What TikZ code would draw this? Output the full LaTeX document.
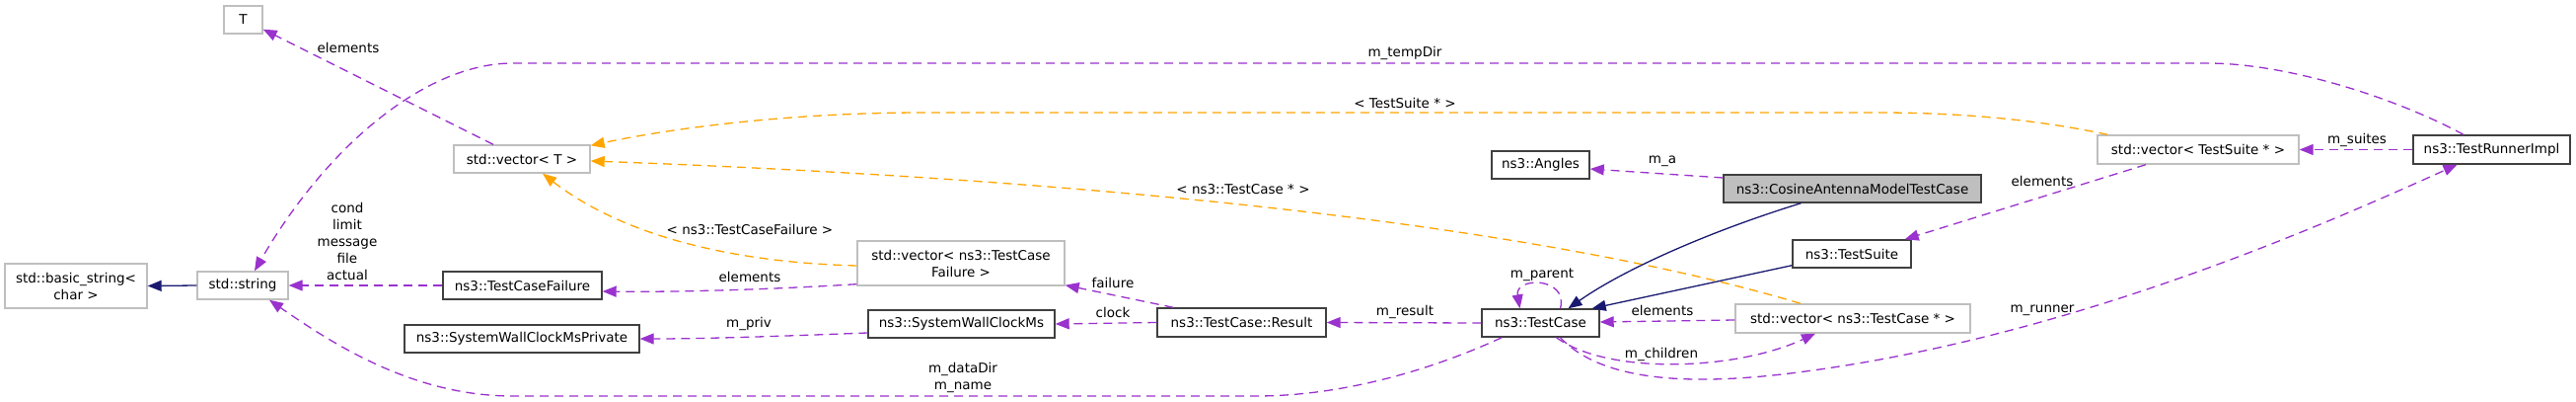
\documentclass[tikz,border=0pt]{standalone}
\usepackage{fontspec}
\setmainfont{DejaVu Sans}
\usetikzlibrary{arrows.meta}
\definecolor{dpurple}{HTML}{9A32CD}
\definecolor{dorange}{HTML}{FFA500}
\definecolor{dnavy}{HTML}{191970}
\definecolor{gborder}{HTML}{BFBFBF}
\definecolor{bborder}{HTML}{404040}
\definecolor{gfill}{HTML}{BFBFBF}
\begin{document}
\begin{tikzpicture}[x=1pt,y=-1pt,
  font=\fontsize{13.5}{17}\selectfont,
  box/.style={draw=bborder,line width=1.4pt,inner sep=0pt,align=center,fill=white},
  gbox/.style={draw=gborder,line width=1.4pt,inner sep=0pt,align=center,fill=white},
  tip/.style={-{Triangle[length=14pt,width=11pt]}},
  uses/.style={tip,draw=dpurple,line width=1.3pt,dash pattern=on 9pt off 6pt},
  tmpl/.style={tip,draw=dorange,line width=1.3pt,dash pattern=on 9pt off 6pt},
  inh/.style={tip,draw=dnavy,line width=1.3pt},
  lbl/.style={inner sep=0pt,align=center}
]
\useasboundingbox (0,0) rectangle (2611,407);
\fill[white] (0,0) rectangle (2611,407);

% nodes
\node[gbox,minimum width=39pt,minimum height=28pt] (T) at (246.5,20) {T};
\node[gbox,minimum width=144pt,minimum height=45pt] (bstr) at (77,289.5) {std::basic\_string<\\char >};
\node[gbox,minimum width=92pt,minimum height=28pt] (str) at (246,289) {std::string};
\node[gbox,minimum width=138pt,minimum height=28pt] (vecT) at (529,161) {std::vector< T >};
\node[box,minimum width=161pt,minimum height=28pt] (tcf) at (529.5,289) {ns3::TestCaseFailure};
\node[gbox,minimum width=210pt,minimum height=45pt] (vecTCF) at (974,266.5) {std::vector< ns3::TestCase\\Failure >};
\node[box,minimum width=238pt,minimum height=28pt] (swp) at (529,343) {ns3::SystemWallClockMsPrivate};
\node[box,minimum width=189pt,minimum height=28pt] (swc) at (974.5,328) {ns3::SystemWallClockMs};
\node[box,minimum width=171pt,minimum height=29pt] (res) at (1258.5,326.5) {ns3::TestCase::Result};
\node[box,minimum width=119pt,minimum height=28pt] (tc) at (1561.5,327) {ns3::TestCase};
\node[box,minimum width=99pt,minimum height=28pt] (ang) at (1561.5,167) {ns3::Angles};
\node[box,fill=gfill,minimum width=261pt,minimum height=28pt] (cos) at (1877.5,191) {ns3::CosineAntennaModelTestCase};
\node[box,minimum width=120pt,minimum height=28pt] (ts) at (1877,257) {ns3::TestSuite};
\node[gbox,minimum width=238pt,minimum height=29pt] (vecTC) at (1878,322.5) {std::vector< ns3::TestCase * >};
\node[gbox,minimum width=204pt,minimum height=29pt] (vecTS) at (2228,151.5) {std::vector< TestSuite * >};
\node[box,minimum width=159pt,minimum height=29pt] (run) at (2525.5,151.5) {ns3::TestRunnerImpl};

% edges
\draw[inh] (str.west) -- (bstr.east);
\draw[uses] ([xshift=-29pt]vecT.north) -- ([yshift=5pt]T.south east);
\draw[uses] (tcf.west) -- (str.east);
\draw[uses] ([xshift=-28.5pt]run.north) .. controls (2430,100) and (2320,64) .. (2237,64) -- (520,64) .. controls (430,64) and (330,150) .. ([xshift=12pt]str.north);
\draw[tmpl] ([xshift=11pt]vecTS.north west) .. controls (2060,120) and (1980,114) .. (1904,114) -- (936,114) .. controls (800,114) and (680,130) .. ([yshift=-1pt]vecT.north east);
\draw[tmpl] ([xshift=-53pt]vecTC.north) .. controls (1600,240) and (1200,185) .. ([yshift=-2pt]vecT.east);
\draw[tmpl] ([yshift=-2.5pt]vecTCF.west) .. controls (720,265) and (620,230) .. ([xshift=21pt]vecT.south);
\draw[uses] ([yshift=2pt]vecTCF.south west) .. controls (800,292) and (700,296) .. ([yshift=-6pt]tcf.east);
\draw[uses] ([yshift=-9pt]swc.west) .. controls (800,340) and (720,343) .. (swp.east);
\draw[uses] ([xshift=17pt]res.north west) -- ([yshift=1pt]vecTCF.south east);
\draw[uses] (res.west) -- (swc.east);
\draw[uses] (tc.west) -- (res.east);
\draw[uses] ([xshift=21pt]tc.south west) .. controls (1450,375) and (1360,401) .. (1273,401) -- (520,401) .. controls (420,401) and (340,350) .. ([xshift=27pt]str.south);
\draw[uses] ([yshift=11pt]cos.west) -- ([yshift=-4pt]ang.east);
\draw[inh] ([xshift=-52pt]cos.south) .. controls (1740,232) and (1650,270) .. ([xshift=28pt]tc.north);
\draw[inh] ([yshift=3pt]ts.south west) -- ([xshift=-8pt]tc.north east);
\draw[uses] ([xshift=20pt]tc.north) .. controls (1590,280) and (1535,280) .. ([xshift=-21pt]tc.north);
\draw[uses] ([yshift=-1.5pt]vecTC.west) -- ([yshift=1pt]tc.east);
\draw[uses] ([xshift=16pt]tc.south) .. controls (1630,380) and (1760,375) .. ([xshift=-38pt]vecTC.south);
\draw[uses] ([xshift=20pt]tc.south) .. controls (1625,388) and (1720,391) .. (1830,376) .. controls (2100,340) and (2350,230) .. ([xshift=-35pt]run.south);
\draw[uses] ([xshift=-53pt]vecTS.south) -- ([xshift=-7pt]ts.north east);
\draw[uses] (run.west) -- (vecTS.east);

% labels
\node[lbl] (l1) at (353,48) {elements};
\node[lbl] (l2) at (352,244) {cond\\limit\\message\\file\\actual};
\node[lbl] (l3) at (1424,54) {m\_tempDir};
\node[lbl] (l4) at (1424,104) {< TestSuite * >};
\node[lbl] (l5) at (1260,192) {< ns3::TestCase * >};
\node[lbl] (l6) at (760,232) {< ns3::TestCaseFailure >};
\node[lbl] (l7) at (760,280) {elements};
\node[lbl] (l8) at (759,328) {m\_priv};
\node[lbl] (l9) at (1128,286) {failure};
\node[lbl] (l10) at (1128,316) {clock};
\node[lbl] (l11) at (1424,316) {m\_result};
\node[lbl] (l12) at (976,382.5) {m\_dataDir\\m\_name};
\node[lbl] (l13) at (1685,163) {m\_a};
\node[lbl] (l14) at (1563,278) {m\_parent};
\node[lbl] (l15) at (1685,314) {elements};
\node[lbl] (l16) at (1684,359) {m\_children};
\node[lbl] (l17) at (2070,314) {m\_runner};
\node[lbl] (l18) at (2070,183) {elements};
\node[lbl] (l19) at (2389,142) {m\_suites};
\end{tikzpicture}
\end{document}
